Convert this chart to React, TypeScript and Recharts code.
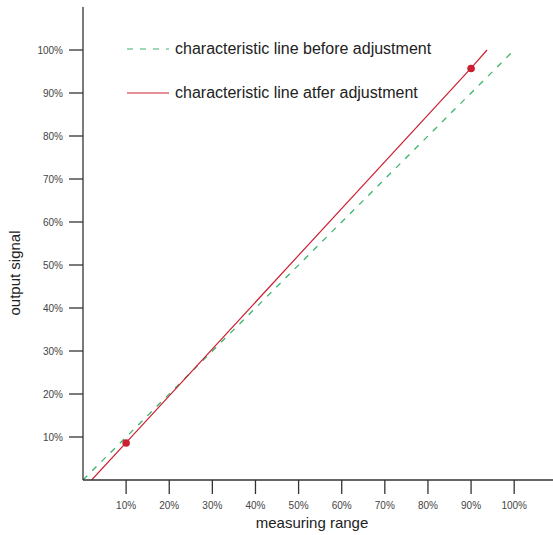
import {
  ComposedChart,
  Line,
  Scatter,
  XAxis,
  YAxis,
} from "recharts"

const COLORS = {
  axis:   "#333333",
  tick:   "#444444",
  text:   "#222222",
  before: "#3cb46c",
  after:  "#cc1f31",
}

const FONT = "'Liberation Sans', Arial, sans-serif"

// measuring range ticks / output signal ticks (percent)
const xTicks = [10, 20, 30, 40, 50, 60, 70, 80, 90, 100]
const yTicks = [10, 20, 30, 40, 50, 60, 70, 80, 90, 100]

// characteristic line before adjustment
const beforeX = [0, 100]
const beforeY = [0, 100]

// characteristic line after adjustment
const afterX = [2, 10, 90, 93.7]
const afterY = [0, 8.7, 95.8, 100]

// adjustment points
const pointX = [10, 90]
const pointY = [8.6, 95.7]

const legendItems = [
  { label: "characteristic line before adjustment", color: COLORS.before, dash: "6 7" },
  { label: "characteristic line atfer adjustment",  color: COLORS.after,  dash: undefined },
]

const zip = (xs: number[], ys: number[]) => xs.map((x, i) => ({ x, y: ys[i] }))

const beforeData = zip(beforeX, beforeY)
const afterData  = zip(afterX, afterY)
const pointData  = zip(pointX, pointY)

function ChartLegend() {
  return (
    <div style={{ position: "absolute", top: 27.5, left: 127, fontFamily: FONT }}>
      {legendItems.map((item) => (
        <div key={item.label} style={{ display: "flex", alignItems: "center", height: 43.7 }}>
          <svg width={42} height={4} style={{ marginRight: 6 }}>
            <line x1={0} y1={2} x2={42} y2={2} stroke={item.color} strokeWidth={1.2} strokeDasharray={item.dash} />
          </svg>
          <span style={{ fontSize: 16, color: COLORS.text, whiteSpace: "nowrap" }}>{item.label}</span>
        </div>
      ))}
    </div>
  )
}

function YLabel() {
  return (
    <text
      transform="translate(14, 273) rotate(-90)"
      textAnchor="middle"
      dominantBaseline="central"
      fontSize={15}
      fill={COLORS.text}
      fontFamily={FONT}
    >
      output signal
    </text>
  )
}

export default function App() {
  return (
    <div style={{ position: "absolute", left: 0, top: 0, width: 553, height: 535, background: "#fff" }}>
      <style>{`body{margin:0}`}</style>
      <ComposedChart width={553} height={535} margin={{ top: 7, right: 0, left: 0, bottom: 0 }}>
        <XAxis
          type="number"
          dataKey="x"
          domain={[0, 109]}
          ticks={xTicks}
          allowDataOverflow
          tickFormatter={(v: number) => `${v}%`}
          tick={{ fontSize: 10, fill: COLORS.tick, fontFamily: FONT }}
          axisLine={{ stroke: COLORS.axis, strokeWidth: 1.3 }}
          tickLine={{ stroke: COLORS.axis, strokeWidth: 1.3 }}
          tickSize={14}
          tickMargin={8}
          height={55}
          label={{ value: "measuring range", position: "insideBottom", offset: 7, dx: -6, fontSize: 15, fill: COLORS.text, fontFamily: FONT }}
        />
        <YAxis
          type="number"
          dataKey="y"
          domain={[0, 110]}
          ticks={yTicks}
          allowDataOverflow
          tickFormatter={(v: number) => `${v}%`}
          tick={{ fontSize: 10, fill: COLORS.tick, fontFamily: FONT }}
          axisLine={{ stroke: COLORS.axis, strokeWidth: 1.3 }}
          tickLine={{ stroke: COLORS.axis, strokeWidth: 1.3 }}
          tickSize={14}
          tickMargin={6}
          width={83}
          label={{ content: () => <YLabel /> }}
        />
        <Line
          data={beforeData}
          dataKey="y"
          type="linear"
          stroke={COLORS.before}
          strokeWidth={1.3}
          strokeDasharray="6 7"
          dot={false}
          activeDot={false}
          isAnimationActive={false}
        />
        <Line
          data={afterData}
          dataKey="y"
          type="linear"
          stroke={COLORS.after}
          strokeWidth={1.2}
          dot={false}
          activeDot={false}
          isAnimationActive={false}
        />
        <Scatter
          data={pointData}
          dataKey="y"
          fill={COLORS.after}
          isAnimationActive={false}
          shape={(p: { cx?: number; cy?: number }) => <circle cx={p.cx} cy={p.cy} r={3.8} fill={COLORS.after} />}
        />
      </ComposedChart>
      <ChartLegend />
    </div>
  )
}
